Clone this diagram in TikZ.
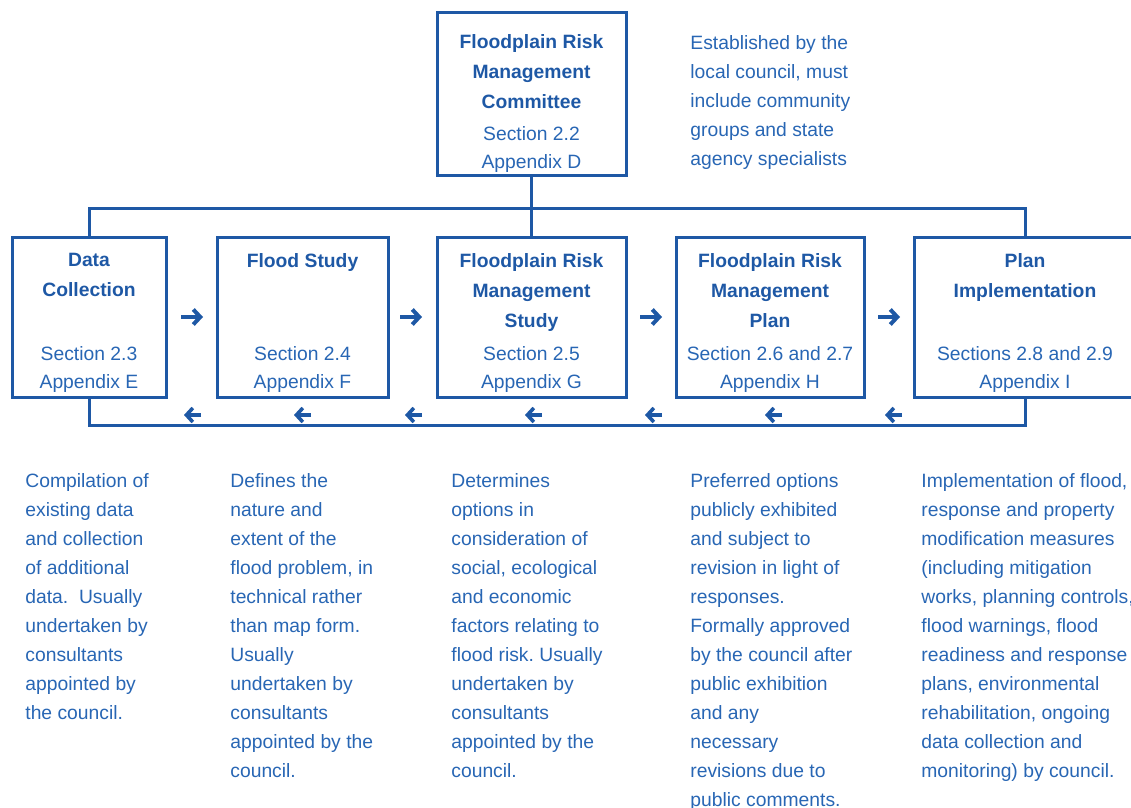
\documentclass[tikz,border=0pt]{standalone}
\usepackage{fontspec}
\setmainfont{Liberation Sans}
\usetikzlibrary{arrows.meta}
\definecolor{floodblue}{RGB}{30,88,165}
\definecolor{textblue}{RGB}{40,102,180}
\frenchspacing

\begin{document}
\begin{tikzpicture}[
        x=0.5pt, y=-0.5pt,
        box/.style={draw=floodblue, line width=1.5pt, minimum height=79.5pt, inner sep=0pt},
        title/.style={text=floodblue, font=\bfseries\fontsize{9.65pt}{15pt}\selectfont, align=center, inner sep=0pt, anchor=north},
        ref/.style={text=textblue, font=\fontsize{9.65pt}{14pt}\selectfont, align=center, inner sep=0pt, anchor=south},
        note/.style={text=textblue, font=\fontsize{9.65pt}{14.5pt}\selectfont, align=left, inner sep=0pt, anchor=north west},
        link/.style={draw=floodblue, line width=1.5pt},
        fwd/.style={draw=floodblue, line width=2pt, -{Straight Barb[length=3.5pt, width=7.5pt]}},
        back/.style={draw=floodblue, line width=1.8pt, -{Straight Barb[length=3.2pt, width=7pt]}}
    ]
        \useasboundingbox (0,0) rectangle (1131,808);

        % Committee
        \node[box, minimum width=94.5pt, minimum height=81.5pt] (frmc) at (531.5,94.5) {};
        \node[title] (frmct) at (531.5,34) {Floodplain Risk\\Management\\Committee};
        \node[ref] (frmcr) at (531.5,173) {Section 2.2\\Appendix D};
        \node[note] (frmcn) at (690,35) {Established by the\\local council, must\\include community\\groups and state\\agency specialists};

        % Process boxes
        \node[box, minimum width=77pt] (dc) at (89,317.5) {};
        \node[box, minimum width=85.5pt] (fs) at (302.5,317.5) {};
        \node[box, minimum width=94.5pt] (frms) at (531.5,317.5) {};
        \node[box, minimum width=94pt] (frmp) at (770,317.5) {};
        \node[box, minimum width=111pt] (pi) at (1025,317.5) {};

        \node[title] (dct) at (89,253) {Data\\Collection};
        \node[title] (fst) at (302.5,253) {Flood Study};
        \node[title] (frmst) at (531.5,253) {Floodplain Risk\\Management\\Study};
        \node[title] (frmpt) at (770,253) {Floodplain Risk\\Management\\Plan};
        \node[title] (pit) at (1025,253) {Plan\\Implementation};

        \node[ref] (dcr) at (89,393) {Section 2.3\\Appendix E};
        \node[ref] (fsr) at (302.5,393) {Section 2.4\\Appendix F};
        \node[ref] (frmsr) at (531.5,393) {Section 2.5\\Appendix G};
        \node[ref] (frmpr) at (770,393) {Section 2.6 and 2.7\\Appendix H};
        \node[ref] (pir) at (1025,393) {Sections 2.8 and 2.9\\Appendix I};

        % Notes
        \node[note] (dcn) at (25,473) {Compilation of\\existing data\\and collection\\of additional\\data.\ \ Usually\\undertaken by\\consultants\\appointed by\\the council.};
        \node[note] (fsn) at (230,473) {Defines the\\nature and\\extent of the\\flood problem, in\\technical rather\\than map form.\\Usually\\undertaken by\\consultants\\appointed by the\\council.};
        \node[note] (frmsn) at (451,473) {Determines\\options in\\consideration of\\social, ecological\\and economic\\factors relating to\\flood risk. Usually\\undertaken by\\consultants\\appointed by the\\council.};
        \node[note] (frmpn) at (690,473) {Preferred options\\publicly exhibited\\and subject to\\revision in light of\\responses.\\Formally approved\\by the council after\\public exhibition\\and any\\necessary\\revisions due to\\public comments.};
        \node[note] (pin) at (921,473) {Implementation of flood,\\response and property\\modification measures\\(including mitigation\\works, planning controls,\\flood warnings, flood\\readiness and response\\plans, environmental\\rehabilitation, ongoing\\data collection and\\monitoring) by council.};

        % Edges
        \coordinate (bus) at (531.5,209);
        \coordinate (loop) at (531.5,425);
        \draw[link] (frmc.south) -- (frms.north);
        \draw[link] (dc.north) |- (bus) -| (pi.north);
        \draw[link] (dc.south) |- (loop) -| (pi.south);

        % Forward arrows
        \draw[fwd] (181,317) -- (203,317);
        \draw[fwd] (400,317) -- (422,317);
        \draw[fwd] (640,317) -- (662,317);
        \draw[fwd] (878,317) -- (900,317);

        % Feedback arrows
        \draw[back] (201,415) -- (184,415);
        \draw[back] (311,415) -- (294,415);
        \draw[back] (422,415) -- (405,415);
        \draw[back] (542,415) -- (525,415);
        \draw[back] (662,415) -- (645,415);
        \draw[back] (782,415) -- (765,415);
        \draw[back] (902,415) -- (885,415);

    \end{tikzpicture}
\end{document}
